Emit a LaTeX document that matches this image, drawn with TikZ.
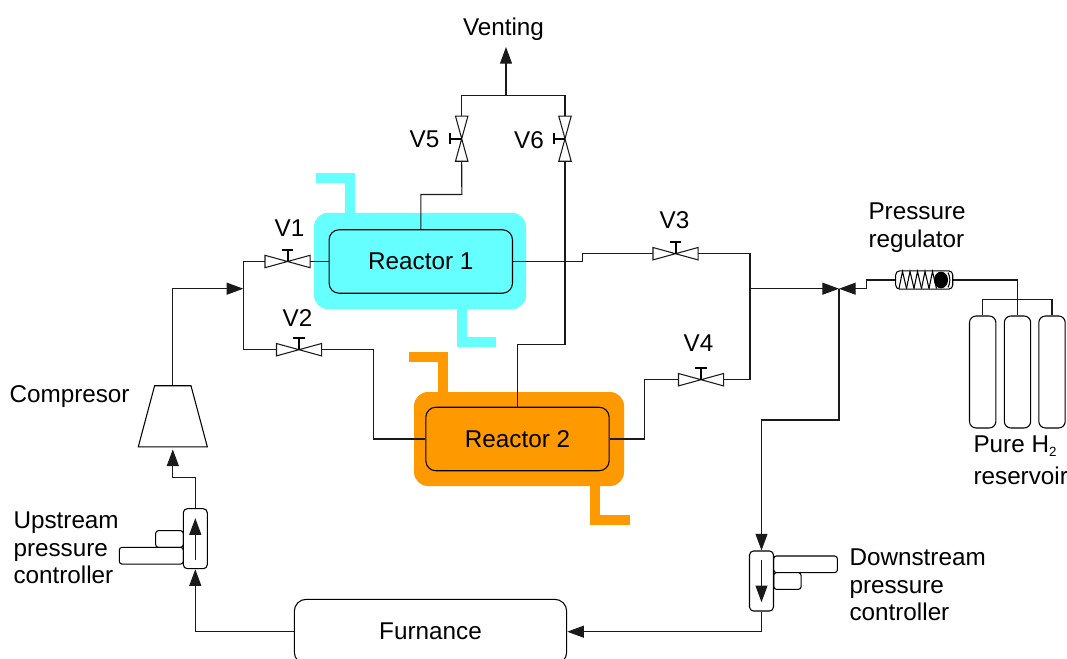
\documentclass[tikz,border=0pt]{standalone}
\usepackage{fontspec}
\setmainfont{Liberation Sans}
\usetikzlibrary{arrows.meta,shapes.geometric}

\begin{document}
\begin{tikzpicture}[x=0.75pt,y=-0.75pt,line width=0.8pt,font=\fontsize{18.2}{20.8}\selectfont]
    % Colors
    \definecolor{cold color}{HTML}{66FFFF}
    \definecolor{hot color}{HTML}{FF9900}
    \definecolor{pipe color}{HTML}{1A1A1A}

    % Styles
    \tikzstyle{pipe} = [draw=pipe color]
    \tikzstyle{flow} = [pipe,-{Triangle[length=12.5pt,width=9pt]}]
    \tikzstyle{caption text} = [inner sep=0pt,align=left,anchor=west]
    \tikzstyle{valve h} = [inner sep=0pt,minimum width=33pt,minimum height=8.5pt]
    \tikzstyle{valve v} = [inner sep=0pt,minimum width=8.5pt,minimum height=33pt]
    \tikzstyle{valve stem} = [line width=1.5pt,black]
    \tikzstyle{vessel} = [draw,inner sep=0pt,rounded corners=7.5pt,minimum width=137.5pt,minimum height=47.6pt]
    \tikzstyle{jacket} = [inner sep=0pt,rounded corners=10.5pt]
    \tikzstyle{stub} = [line width=7.5pt]
    \tikzstyle{tank} = [draw,inner sep=0pt,rounded corners=5pt,minimum width=19.8pt,minimum height=84pt]
    \tikzstyle{controller} = [draw,fill=white,inner sep=0pt,rounded corners=3pt,minimum width=18pt,minimum height=45pt]
    \tikzstyle{side box} = [draw,fill=white,inner sep=0pt,rounded corners=2pt]

    \useasboundingbox (0,0) rectangle (1067,659);
    \clip (0,0) rectangle (1067,659);

    %%% Reactors
    \draw[stub,cold color] (316,178) -| (350,214);
    \draw[stub,cold color] (461.7,308) |- (496,341.5);
    \draw[stub,hot color] (409,357) -| (443,393);
    \draw[stub,hot color] (595,485) |- (630,520);

    \node[jacket,fill=cold color,minimum width=159pt,minimum height=72.2pt] (jacket1) at (420,261) {};
    \node[jacket,fill=hot color,minimum width=157.5pt,minimum height=70.5pt] (jacket2) at (519,439) {};
    \node[vessel,fill=cold color] (reactor1) at (420.8,261.5) {Reactor 1};
    \node[vessel,fill=hot color] (reactor2) at (517.5,439) {Reactor 2};
    %%%

    %%% Valves
    \foreach \name/\x/\y/\lx/\ly in {V1/287.5/261.5/289.5/228, V2/299/349.7/297.5/318, V3/675.5/253.7/674.5/220, V4/701/379.7/698.5/343}
    {
        \node[valve h] (\name) at (\x,\y) {};
        \draw[pipe] (\name.north west) -- (\name.south east) -- (\name.north east) -- (\name.south west) -- cycle;
        \draw[valve stem] (\name.center) -- ++(0,-11.5) ++(-5.8,0) -- ++(11.6,0);
        \node[inner sep=0pt] (label \name) at (\lx,\ly) {\name};
    }
    \foreach \name/\x/\y/\lx in {V5/461.7/138.7/424.5, V6/565/138.7/529}
    {
        \node[valve v] (\name) at (\x,\y) {};
        \draw[pipe] (\name.north west) -- (\name.south east) -- (\name.south west) -- (\name.north east) -- cycle;
        \draw[valve stem] (\name.center) -- ++(-11.5,0) ++(0,-5.8) -- ++(0,11.6);
        \node[inner sep=0pt] (label \name) at (\lx,\y+1) {\name};
    }
    %%%

    %%% Other equipment
    \node[draw,fill=white,trapezium,trapezium stretches=true,trapezium left angle=67,trapezium right angle=67,
        inner sep=0pt,minimum width=51.8pt,minimum height=45.8pt] (compressor) at (172.8,416.3) {\phantom{x}};

    \node[draw,rounded corners=9pt,inner sep=0pt,minimum width=204.3pt,minimum height=48.6pt] (furnace) at (430.5,631.7) {Furnance};

    % Upstream controller
    \node[side box,minimum width=20.7pt,minimum height=12.5pt] (upsmall) at (169.5,539) {};
    \node[side box,minimum width=48pt,minimum height=12.5pt] (upbig) at (151.3,555.7) {};
    \node[controller] (upctrl) at (195.3,538.7) {};

    % Downstream controller
    \node[side box,minimum width=47.7pt,minimum height=12.5pt] (downbig) at (805.5,564.3) {};
    \node[side box,minimum width=20.5pt,minimum height=12.5pt] (downsmall) at (787.4,581) {};
    \node[controller] (downctrl) at (761.5,581) {};

    % Pressure regulator
    \node[draw,rounded corners=3pt,inner sep=0pt,minimum width=42.8pt,minimum height=13.7pt] (regulator) at (924.2,280) {};
    \foreach \x in {899,906.5,...,929}
    {
        \draw (\x,288.5) -- (\x+3.5,271.5) -- (\x+7.5,288.5);
    }
    \node[ellipse,fill=black,inner sep=0pt,minimum width=10.5pt,minimum height=12.5pt] (ball) at (941,280) {};
    \draw (948,272.5) to[bend left=25] (948,287.5);

    % Hydrogen tanks
    \foreach \name/\x in {tank1/982.7, tank2/1017.5, tank3/1052}
    {
        \node[tank] (\name) at (\x,372) {};
    }
    %%%

    %%% Junctions
    \coordinate (inlet) at (243.3,288.7);
    \coordinate (outlet) at (750,288.7);
    \coordinate (mix) at (839,288.7);
    \coordinate (drop) at (839,420);
    \coordinate (step) at (582.7,261.5);
    \coordinate (vent) at (506,95.3);
    %%%

    %%% Pipes
    \draw[flow] (compressor.north) |- (inlet);
    \draw[pipe] (V1.west) -| (inlet) |- (V2.west);
    \draw[pipe] (V1.east) -- (reactor1.west);
    \draw[pipe] (V2.east) -- ++(52.3,0) |- (reactor2.west);

    \draw[pipe] (reactor1.east) -- (step) |- (V3.west);
    \draw[pipe] (reactor2.east) -- ++(34.7,0) |- (V4.west);
    \draw[pipe] (V3.east) -| (outlet) |- (V4.east);
    \draw[flow] (outlet) -- (mix);

    \draw[pipe] (reactor1.north) |- ++(41,-34.7) -- (V5.south);
    \draw[pipe] (V6.south) -- ++(0,183) -| (reactor2.north);
    \draw[pipe] (V5.north) |- (vent) -| (V6.north);

    \draw[flow] (regulator.west) -- ++(-28.4,0) |- (mix);
    \draw[pipe] (regulator.east) -| (tank2.north);
    \draw[pipe] (tank1.north) -- ++(0,-15.7) -| (tank3.north);

    \draw[flow] (mix) -- (drop) -| (downctrl.north);
    \draw[flow,shorten >=7pt,shorten <=7pt] (downctrl.north) -- (downctrl.south);
    \draw[flow] (downctrl.south) |- (furnace.east);
    \draw[flow] (furnace.west) -| (upctrl.south);
    \draw[flow,shorten >=7.5pt,shorten <=6.75pt] (upctrl.south) -- (upctrl.north);
    \draw[flow] (upctrl.north) -- ++(0,-30.5) -| ([yshift=-1.5pt]compressor.south);
    %%%

    %%% Labels
    \node[caption text,anchor=south,inner sep=4.5pt] (venting) at (503.5,47) {Venting};
    \draw[flow] (vent) -- (vent |- venting.south);

    \node[caption text] (label compressor) at (9,396.5) {Compresor};
    \node[caption text] (label upstream) at (13,548) {Upstream\\pressure\\controller};
    \node[caption text] (label downstream) at (849,585) {Downstream\\pressure\\controller};
    \node[caption text] (label regulator) at (868,228) {Pressure\\regulator};
    \node[caption text] (label tanks) at (973,460) {Pure H\raisebox{-3pt}{\fontsize{10}{10}\selectfont 2}\\[3pt]reservoir};
    %%%
\end{tikzpicture}
\end{document}
